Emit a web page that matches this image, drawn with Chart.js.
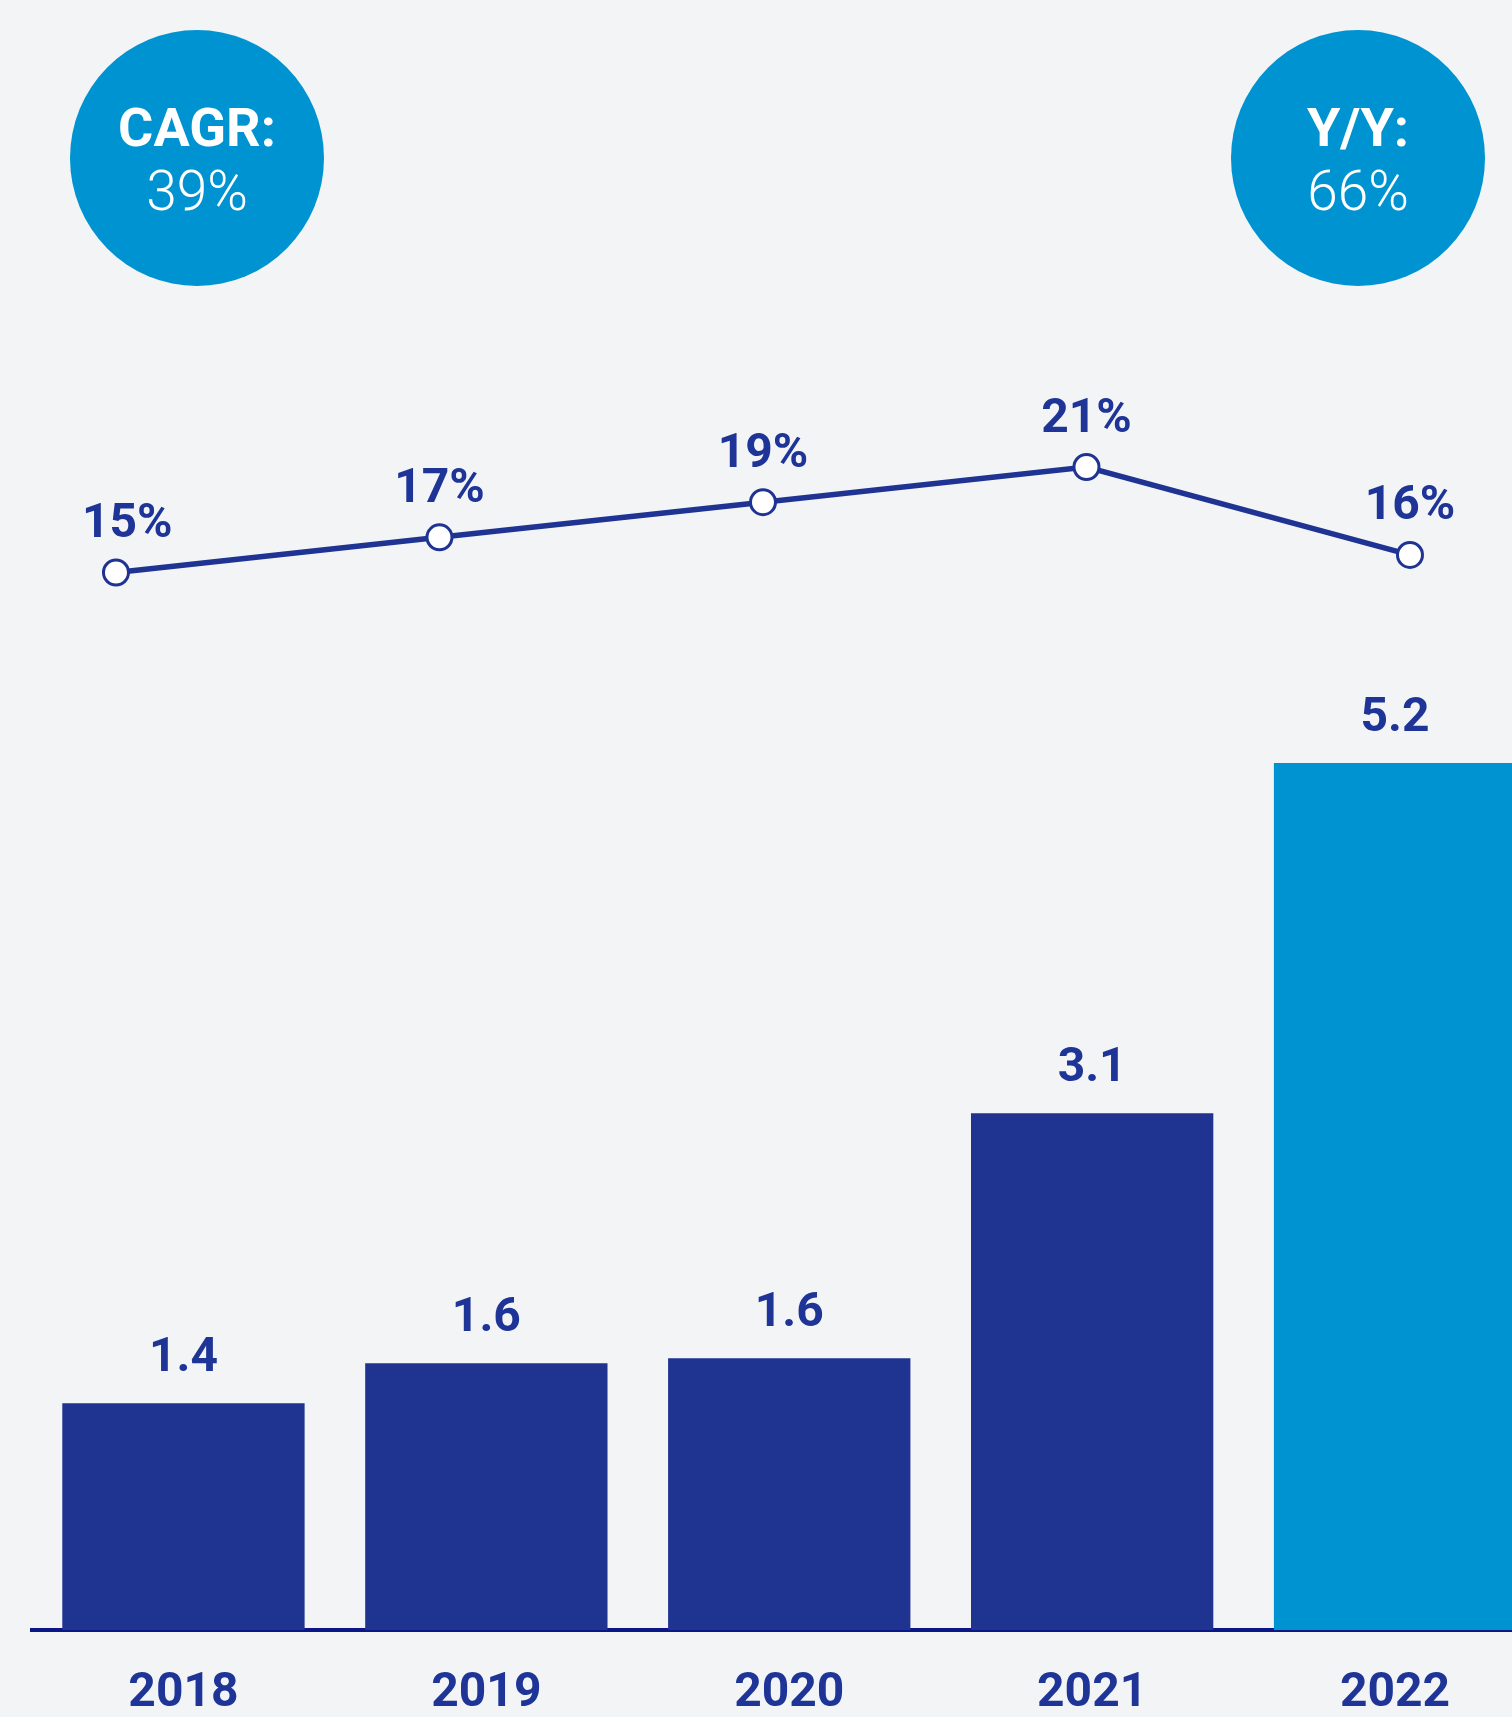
<!DOCTYPE html>
<html>
<head>
<meta charset="utf-8">
<script src="https://cdn.jsdelivr.net/npm/chart.js@4/dist/chart.umd.min.js"></script>
<style>
  html, body { margin: 0; padding: 0; background: #f3f4f6; overflow: hidden; width: 1512px; height: 1717px; }
  #wrap { position: relative; width: 1512px; height: 1717px; overflow: hidden; }
  canvas { position: absolute; left: 0; top: 0; }
  .bubble { position: absolute; width: 254px; height: 256px; border-radius: 50%; background: #0093d1;
            color: #fff; font-family: Roboto, sans-serif; text-align: center; }
  .bubble .t { position: absolute; left: 0; right: 0; line-height: 64px; }
  .bubble .k { top: 66px; font-weight: 700; font-size: 54px; }
  .bubble .v { top: 129px; font-weight: 300; font-size: 55px; }
</style>
</head>
<body>
<div id="wrap">
  <canvas id="c" width="1580" height="1717" style="width:1580px;height:1717px"></canvas>
  <div class="bubble" style="left:70px;top:30px;"><div class="t k" id="k1"></div><div class="t v" id="v1"></div></div>
  <div class="bubble" style="left:1231px;top:30px;"><div class="t k" id="k2"></div><div class="t v" id="v2"></div></div>
</div>
<script>
// ---- data ----
const years = ["2018", "2019", "2020", "2021", "2022"];
const revenue = [1.36, 1.6, 1.63, 3.1, 5.2];
const sharePct = [15, 17, 19, 21, 16];
const badgeKeys = ["CAGR:", "Y/Y:"];
const badgeValues = ["39%", "66%"];

document.getElementById('k1').textContent = badgeKeys[0];
document.getElementById('v1').textContent = badgeValues[0];
document.getElementById('k2').textContent = badgeKeys[1];
document.getElementById('v2').textContent = badgeValues[1];

const DARK = '#1f3390';
const LIGHT = '#0093d1';
const TEXT = '#1e3597';
const LINE = '#1f3393';

const labelPlugin = {
  id: 'valueLabels',
  afterDatasetsDraw(chart) {
    const ctx = chart.ctx;
    ctx.save();
    ctx.font = '700 48px Roboto';
    ctx.fillStyle = TEXT;
    ctx.textAlign = 'center';
    ctx.textBaseline = 'alphabetic';
    const barMeta = chart.getDatasetMeta(0);
    barMeta.data.forEach((el, i) => {
      ctx.fillText(revenue[i].toFixed(1), el.x, el.y - 32.5);
    });
    const lineMeta = chart.getDatasetMeta(1);
    lineMeta.data.forEach((el, i) => {
      const txt = sharePct[i] + '%';
      const half = ctx.measureText(txt).width / 2;
      const x = Math.max(el.x, 82 + half);
      ctx.fillText(txt, x, el.y - 35.5);
    });
    ctx.restore();
  }
};

function build() {
  new Chart(document.getElementById('c'), {
    data: {
      labels: years,
      datasets: [
        {
          type: 'bar',
          data: revenue,
          xAxisID: 'x',
          yAxisID: 'y',
          backgroundColor: (c) => c.dataIndex === years.length - 1 ? LIGHT : DARK,
          barPercentage: 0.8,
          categoryPercentage: 1.0,
          grouped: false,
          borderWidth: 0,
          order: 2
        },
        {
          type: 'line',
          data: sharePct.map((v, i) => ({ x: i, y: v })),
          xAxisID: 'xl',
          yAxisID: 'yl',
          borderColor: LINE,
          borderWidth: 5.5,
          pointRadius: 12.5,
          pointBorderWidth: 3,
          pointBackgroundColor: '#ffffff',
          pointBorderColor: LINE,
          tension: 0,
          clip: false,
          order: 1
        }
      ]
    },
    options: {
      responsive: false,
      devicePixelRatio: 1,
      animation: false,
      events: [],
      layout: { padding: { left: 32, right: 33.5, top: 300, bottom: 0 } },
      plugins: { legend: { display: false }, tooltip: { enabled: false }, title: { display: false } },
      scales: {
        x: {
          type: 'category',
          position: 'bottom',
          offset: true,
          z: 1,
          grid: { display: false, drawTicks: false, offset: true },
          border: { display: true, color: '#0b1787', width: 4 },
          ticks: { color: TEXT, font: { family: 'Roboto', size: 48, weight: '700' }, padding: 35, maxRotation: 0, autoSkip: false },
          afterFit: (s) => { s.height = 87; s.paddingLeft = 0; s.paddingRight = 0; }
        },
        xl: { type: 'linear', display: false, min: -0.2596, max: 4.422 },
        y: { type: 'linear', display: false, min: 0, max: 7.978 },
        yl: { type: 'linear', display: false, min: -45.15, max: 30.5 }
      }
    },
    plugins: [labelPlugin]
  });
}

Promise.all([
  document.fonts.load('700 48px Roboto'),
  document.fonts.load('300 55px Roboto'),
  document.fonts.load('700 55px Roboto')
]).then(build, build);
</script>
</body>
</html>
